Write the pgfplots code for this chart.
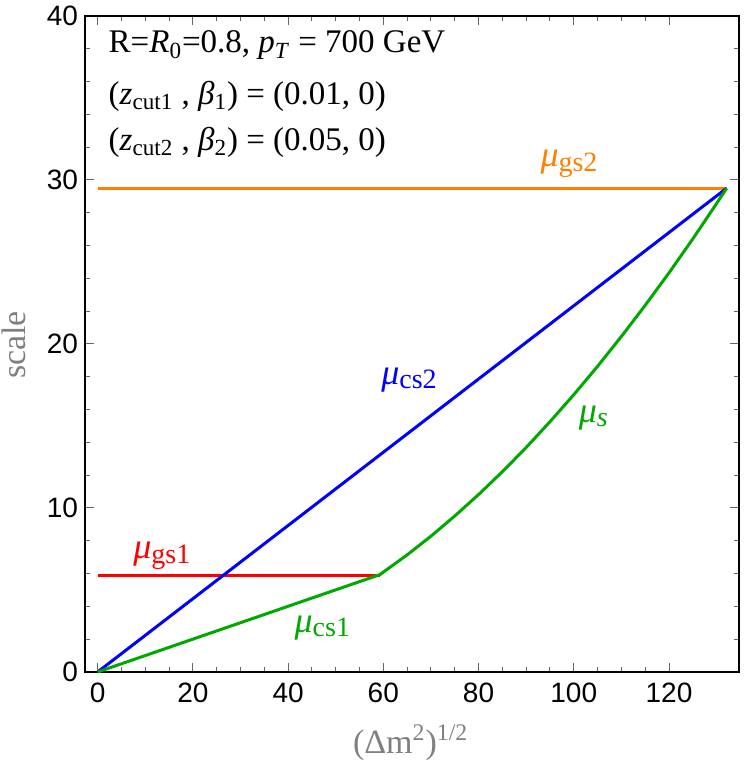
\documentclass[border=0pt]{standalone}
\usepackage{pgfplots}
\pgfplotsset{compat=1.18}
\usepackage{fontspec}
\setmainfont{Liberation Serif}
\setsansfont{Liberation Sans}
\definecolor{mgreen}{rgb}{0,0.66,0}
\definecolor{morange}{rgb}{1,0.5,0}
\newcommand{\mub}[1]{\textit{μ}\raisebox{-2.2pt}{\fontsize{14}{16}\selectfont #1}}
\begin{document}
\begin{tikzpicture}
\begin{axis}[name=ax, scale only axis, width=327pt, height=328pt,
  xmin=-2.65, xmax=134.7, ymin=0, ymax=40,
  xtick={0,20,...,120}, ytick={0,10,...,40},
  minor x tick num=3, minor y tick num=4,
  tick align=inside, major tick length=4.5pt, minor tick length=2.5pt,
  tick style={black!60, line width=0.5pt},
  axis line style={black, line width=0.7pt},
  ticklabel style={font=\fontsize{14}{16}\sffamily},
  xticklabel style={yshift=-2pt},
  /pgf/number format/assume math mode=true,
  xlabel={(Δm\textsuperscript{2})\textsuperscript{1/2}}, ylabel={scale},
  label style={font=\fontsize{17}{19}\selectfont, color=black!50},
  xlabel style={at={(axis description cs:0.498,-0.108)}, anchor=center},
  ylabel style={at={(axis description cs:-0.1086,0.4985)}, anchor=center, rotate=0},
  clip=false]
\addplot[morange, line width=1.5pt] coordinates {(0,29.5) (132.1,29.5)};
\addplot[red, line width=1.5pt] coordinates {(0,5.9) (59.3,5.9)};
\addplot[blue, line width=1.5pt] coordinates {(0,0) (132.1,29.5)};
\addplot[mgreen, line width=1.5pt] coordinates {
(0,0) (59.3,5.94) (60,6.09) (65,7.14) (70,8.28) (75,9.51) (80,10.82) (85,12.21)
(90,13.69) (95,15.26) (100,16.91) (105,18.64) (110,20.46) (115,22.36)
(120,24.34) (125,26.41) (130,28.57) (132.1,29.5)};
\node[anchor=west, font=\fontsize{16.5}{18}\selectfont] at (axis cs:0.85,38.2) {R=\textit{R}\textsubscript{0}=0.8, \textit{p}\textsubscript{\textit{T}} = 700 GeV};
\node[anchor=west, font=\fontsize{16.5}{18}\selectfont] at (axis cs:0.85,35.1) {(\textit{z}\textsubscript{cut1} , \textit{β}\textsubscript{1}) = (0.01, 0)};
\node[anchor=west, font=\fontsize{16.5}{18}\selectfont] at (axis cs:0.85,32.3) {(\textit{z}\textsubscript{cut2} , \textit{β}\textsubscript{2}) = (0.05, 0)};
\node[morange, font=\fontsize{18}{20}\selectfont] at (axis cs:99.0,31.0) {\mub{gs2}};
\node[red, font=\fontsize{18}{20}\selectfont] at (axis cs:13.5,7.1) {\mub{gs1}};
\node[blue, font=\fontsize{18}{20}\selectfont] at (axis cs:65.4,17.8) {\mub{cs2}};
\node[mgreen, font=\fontsize{18}{20}\selectfont] at (axis cs:47.2,2.7) {\mub{cs1}};
\node[mgreen, font=\fontsize{18}{20}\selectfont] at (axis cs:104.1,15.5) {\mub{\textit{s}}};
\end{axis}
\path (ax.south west) ++(-42.5pt,-46.5pt) coordinate (bl);
\path (ax.north east) ++(5.5pt,8pt) coordinate (tr);
\pgfresetboundingbox
\path[use as bounding box] (bl) rectangle (tr);
\end{tikzpicture}
\end{document}
